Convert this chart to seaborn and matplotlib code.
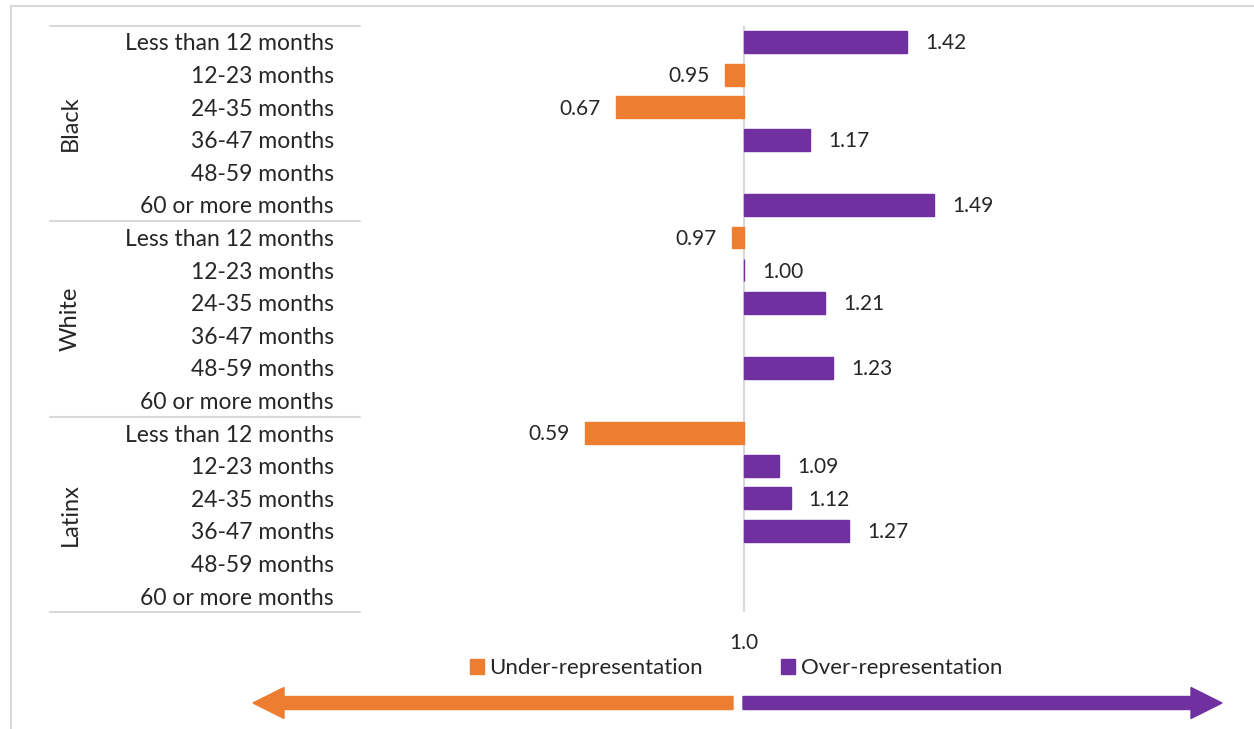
import numpy as np
import pandas as pd
import seaborn as sns
import matplotlib
matplotlib.use("Agg")
import matplotlib.pyplot as plt
import matplotlib.patches as mpatches
import matplotlib.transforms as mtransforms
from matplotlib.lines import Line2D

# ---- data ----
groups = ["Black", "White", "Latinx"]
durations = ["Less than 12 months", "12-23 months", "24-35 months",
             "36-47 months", "48-59 months", "60 or more months"]
black_vals = [1.42, 0.95, 0.67, 1.17, np.nan, 1.49]
white_vals = [0.97, 1.00, 1.21, np.nan, 1.23, np.nan]
latinx_vals = [0.59, 1.09, 1.12, 1.27, np.nan, np.nan]
baseline = 1.0
legend_labels = ["Under-representation", "Over-representation"]

ORANGE = "#ED7D31"
PURPLE = "#7030A0"
GRID = "#D9D9D9"

sns.set_theme(style="white")
plt.rcParams["font.family"] = ["Lato", "DejaVu Sans"]
FS = 15
FS_CAT = 16.5

vals = black_vals + white_vals + latinx_vals
rows = list(range(len(vals)))
df = pd.DataFrame({
    "row": rows,
    "value": vals,
    "group": [g for g in groups for _ in durations],
    "label": durations * len(groups),
})
df["dev"] = df["value"] - baseline
df["direction"] = np.where(df["value"] < baseline, legend_labels[0], legend_labels[1])

W, H = 1254, 729
fig = plt.figure(figsize=(W / 100, H / 100), dpi=100)
ax_left, ax_right = 356, 1248.4
ax_top, ax_bot = 25.7, 612.3
ax = fig.add_axes([ax_left / W, 1 - ax_bot / H, (ax_right - ax_left) / W, (ax_bot - ax_top) / H])

sns.barplot(data=df, x="dev", y="row", hue="direction", orient="y",
            order=rows, hue_order=legend_labels,
            palette={legend_labels[0]: ORANGE, legend_labels[1]: PURPLE},
            saturation=1, dodge=False, width=0.67, legend=False, ax=ax, errorbar=None)
for p in ax.patches:
    p.set_edgecolor(p.get_facecolor())
    p.set_linewidth(1.0)

ax.set_xlim(-1.0, 1.3)
ax.set_ylim(len(vals) - 0.5, -0.5)
for s in ax.spines.values():
    s.set_visible(False)
ax.axvline(0, color=GRID, lw=1.5, zorder=0)
ax.set_xlabel("")
ax.set_ylabel("")
ax.set_xticks([0])
ax.set_xticklabels([f"{baseline:.1f}"], fontsize=FS)
ax.tick_params(axis="x", length=0, pad=15)
ax.set_yticks(rows)
ax.set_yticklabels(df["label"], fontsize=FS_CAT)
ax.tick_params(axis="y", length=0, pad=16)

# value labels
for _, r in df.dropna(subset=["value"]).iterrows():
    d = r["dev"]
    if d >= 0:
        ax.annotate(f"{r['value']:.2f}", (d, r["row"]), xytext=(13, -1),
                    textcoords="offset points", ha="left", va="center", fontsize=FS)
    else:
        ax.annotate(f"{r['value']:.2f}", (d, r["row"]), xytext=(-11, -1),
                    textcoords="offset points", ha="right", va="center", fontsize=FS)

# group separators and labels
blend = mtransforms.blended_transform_factory(fig.transFigure, ax.transData)
n = len(durations)
for k in range(len(groups) + 1):
    yb = k * n - 0.5
    fig.add_artist(Line2D([50 / W, 360 / W], [yb, yb], transform=blend,
                          color=GRID, lw=1.5, clip_on=False))
for k, g in enumerate(groups):
    fig.text(70 / W, k * n + (n - 1) / 2, g, transform=blend, rotation=90,
             ha="center", va="center", fontsize=17)

# border
fig.add_artist(mpatches.Rectangle((11 / W, -0.1), 1.2, 1 - 6 / H + 0.1,
                                  transform=fig.transFigure, fill=False,
                                  edgecolor=GRID, lw=1.5))

# legend
handles = [mpatches.Patch(color=ORANGE, label=legend_labels[0]),
           mpatches.Patch(color=PURPLE, label=legend_labels[1])]
fig.legend(handles=handles, loc="center", bbox_to_anchor=(736 / W, 1 - 668 / H),
           ncol=2, frameon=False, fontsize=16, handlelength=0.65, handleheight=0.65,
           handletextpad=0.25, columnspacing=3.5)

# arrows
ident = mtransforms.IdentityTransform()
ya = H - 703
fig.add_artist(mpatches.FancyArrow(733, ya, 253 - 733, 0, width=13, head_width=31,
                                   head_length=31, length_includes_head=True,
                                   color=ORANGE, transform=ident))
fig.add_artist(mpatches.FancyArrow(743, ya, 1222 - 743, 0, width=13, head_width=31,
                                   head_length=31, length_includes_head=True,
                                   color=PURPLE, transform=ident))

fig.savefig("out.png", dpi=100)
